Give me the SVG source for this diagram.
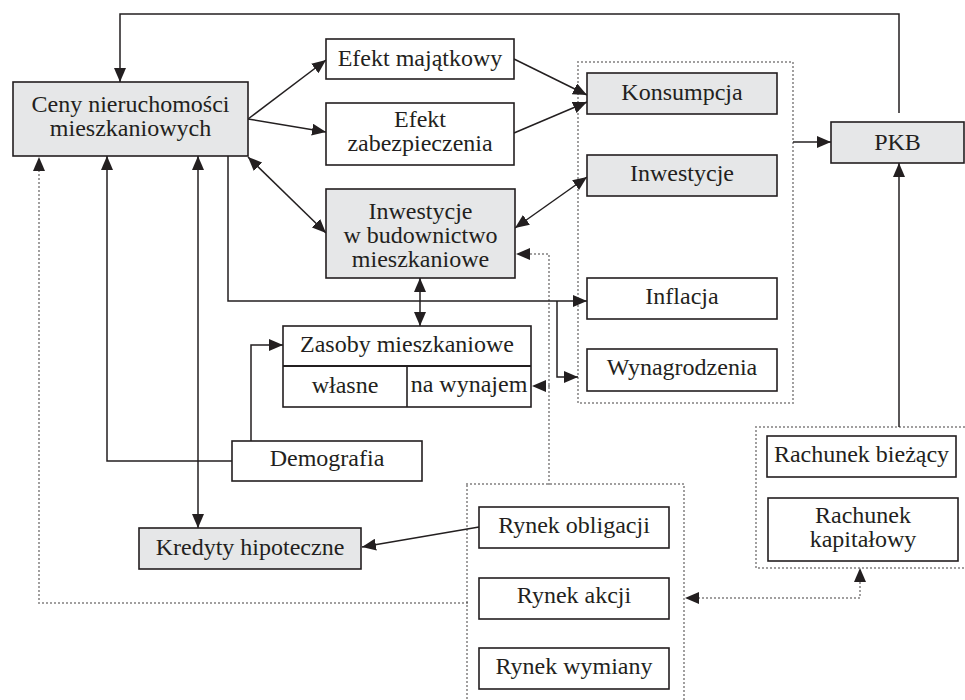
<svg xmlns="http://www.w3.org/2000/svg" width="965" height="700" viewBox="0 0 965 700">
<style>
.box{fill:#ffffff;stroke:#231f20;stroke-width:1.6}
.g{fill:#e6e7e8}
.t{font-family:"Liberation Serif","Times New Roman",serif;font-size:24px;fill:#231f20;text-anchor:middle}
.c{fill:none;stroke:#231f20;stroke-width:1.5}
.d{fill:none;stroke:#231f20;stroke-width:1.6;stroke-dasharray:0 4;stroke-linecap:round}
</style>
<defs>
<marker id="ah" viewBox="0 0 14 12" refX="14" refY="6" markerWidth="14" markerHeight="12" markerUnits="userSpaceOnUse" orient="auto-start-reverse">
<path d="M0,0 L14,6 L0,12 z" fill="#231f20"/>
</marker>
</defs>
<rect width="965" height="700" fill="#ffffff"/>

<g id="groups">
<rect class="d" x="578" y="62" width="215" height="341"/>
<rect class="d" x="467" y="484" width="217" height="230"/>
<rect class="d" x="756" y="427" width="215" height="141"/>
</g>

<g id="connectors">
<path class="c" d="M899,113 V14 H120 V82" marker-end="url(#ah)"/>
<path class="c" d="M248,119 L326,60" marker-end="url(#ah)"/>
<path class="c" d="M248,119 L326,132" marker-end="url(#ah)"/>
<path class="c" d="M248,157 L326,233" marker-start="url(#ah)" marker-end="url(#ah)"/>
<path class="c" d="M514,59 L587,95" marker-end="url(#ah)"/>
<path class="c" d="M514,133 L587,102" marker-end="url(#ah)"/>
<path class="c" d="M515,228 L587,177" marker-start="url(#ah)" marker-end="url(#ah)"/>
<path class="c" d="M793,142 H831" marker-end="url(#ah)"/>
<path class="c" d="M899,427 V163" marker-end="url(#ah)"/>
<path class="c" d="M228,156 V301 H587" marker-end="url(#ah)"/>
<path class="c" d="M557,301 V377 H578" marker-end="url(#ah)"/>
<path class="c" d="M420,278 V326" marker-start="url(#ah)" marker-end="url(#ah)"/>
<path class="c" d="M251,441 V345 H283" marker-end="url(#ah)"/>
<path class="c" d="M232,461 H107 V156" marker-end="url(#ah)"/>
<path class="c" d="M198,156 V528" marker-start="url(#ah)" marker-end="url(#ah)"/>
<path class="c" d="M479,527 L362,547" marker-end="url(#ah)"/>
<path class="d" d="M467,603 H39 V170"/>
<path class="c" d="M39,170 V157" marker-end="url(#ah)" stroke-opacity="0"/>
<path class="d" d="M549,484 V254 H530"/>
<path class="c" d="M530,254 H516" marker-end="url(#ah)" stroke-opacity="0"/>
<path class="d" d="M549,386 H546"/>
<path class="c" d="M546,386 H532" marker-end="url(#ah)" stroke-opacity="0"/>
<path class="d" d="M699,598 H860 V582"/>
<path class="c" d="M699,598 H685" marker-end="url(#ah)" stroke-opacity="0"/>
<path class="c" d="M860,582 V568" marker-end="url(#ah)" stroke-opacity="0"/>
</g>

<g id="ceny"><rect class="box g" x="13" y="82" width="235" height="74"/>
<text class="t" x="130.5" y="112">Ceny nieruchomości</text><text class="t" x="130.5" y="136">mieszkaniowych</text></g>
<g id="efekt-majatkowy"><rect class="box" x="326" y="39" width="188" height="40"/>
<text class="t" x="420" y="66">Efekt majątkowy</text></g>
<g id="efekt-zabezpieczenia"><rect class="box" x="326" y="103" width="188" height="62"/>
<text class="t" x="420" y="127">Efekt</text><text class="t" x="420" y="151">zabezpieczenia</text></g>
<g id="inwestycje-bud"><rect class="box g" x="326" y="189" width="189" height="89"/>
<text class="t" x="420.5" y="219">Inwestycje</text><text class="t" x="420.5" y="243">w budownictwo</text><text class="t" x="420.5" y="267">mieszkaniowe</text></g>
<g id="konsumpcja"><rect class="box g" x="587" y="73" width="190" height="41"/>
<text class="t" x="682" y="100">Konsumpcja</text></g>
<g id="inwestycje"><rect class="box g" x="587" y="155" width="190" height="41"/>
<text class="t" x="682" y="181">Inwestycje</text></g>
<g id="inflacja"><rect class="box" x="587" y="278" width="190" height="41"/>
<text class="t" x="682" y="304">Inflacja</text></g>
<g id="wynagrodzenia"><rect class="box" x="587" y="349" width="190" height="42"/>
<text class="t" x="682" y="375">Wynagrodzenia</text></g>
<g id="pkb"><rect class="box g" x="831" y="122" width="133" height="41"/>
<text class="t" x="897.5" y="150">PKB</text></g>
<g id="zasoby"><rect class="box" x="283" y="326" width="248" height="81"/>
<line x1="283" y1="366" x2="531" y2="366" stroke="#231f20" stroke-width="2"/>
<line x1="407" y1="366" x2="407" y2="407" stroke="#231f20" stroke-width="1.6"/>
<text class="t" x="407" y="352">Zasoby mieszkaniowe</text>
<text class="t" x="345" y="393">własne</text><text class="t" x="469" y="392">na wynajem</text></g>
<g id="demografia"><rect class="box" x="232" y="441" width="190" height="40"/>
<text class="t" x="327" y="466">Demografia</text></g>
<g id="kredyty"><rect class="box g" x="139" y="528" width="222" height="41"/>
<text class="t" x="250" y="555">Kredyty hipoteczne</text></g>
<g id="rynek-obligacji"><rect class="box" x="479" y="507" width="190" height="41"/>
<text class="t" x="574" y="533">Rynek obligacji</text></g>
<g id="rynek-akcji"><rect class="box" x="479" y="578" width="190" height="41"/>
<text class="t" x="574" y="603">Rynek akcji</text></g>
<g id="rynek-wymiany"><rect class="box" x="479" y="648" width="190" height="41"/>
<text class="t" x="574" y="674">Rynek wymiany</text></g>
<g id="rachunek-biezacy"><rect class="box" x="767" y="436" width="189" height="41"/>
<text class="t" x="861.5" y="462">Rachunek bieżący</text></g>
<g id="rachunek-kapitalowy"><rect class="box" x="768" y="498" width="190" height="63"/>
<text class="t" x="863" y="523">Rachunek</text><text class="t" x="863" y="547">kapitałowy</text></g>
</svg>
